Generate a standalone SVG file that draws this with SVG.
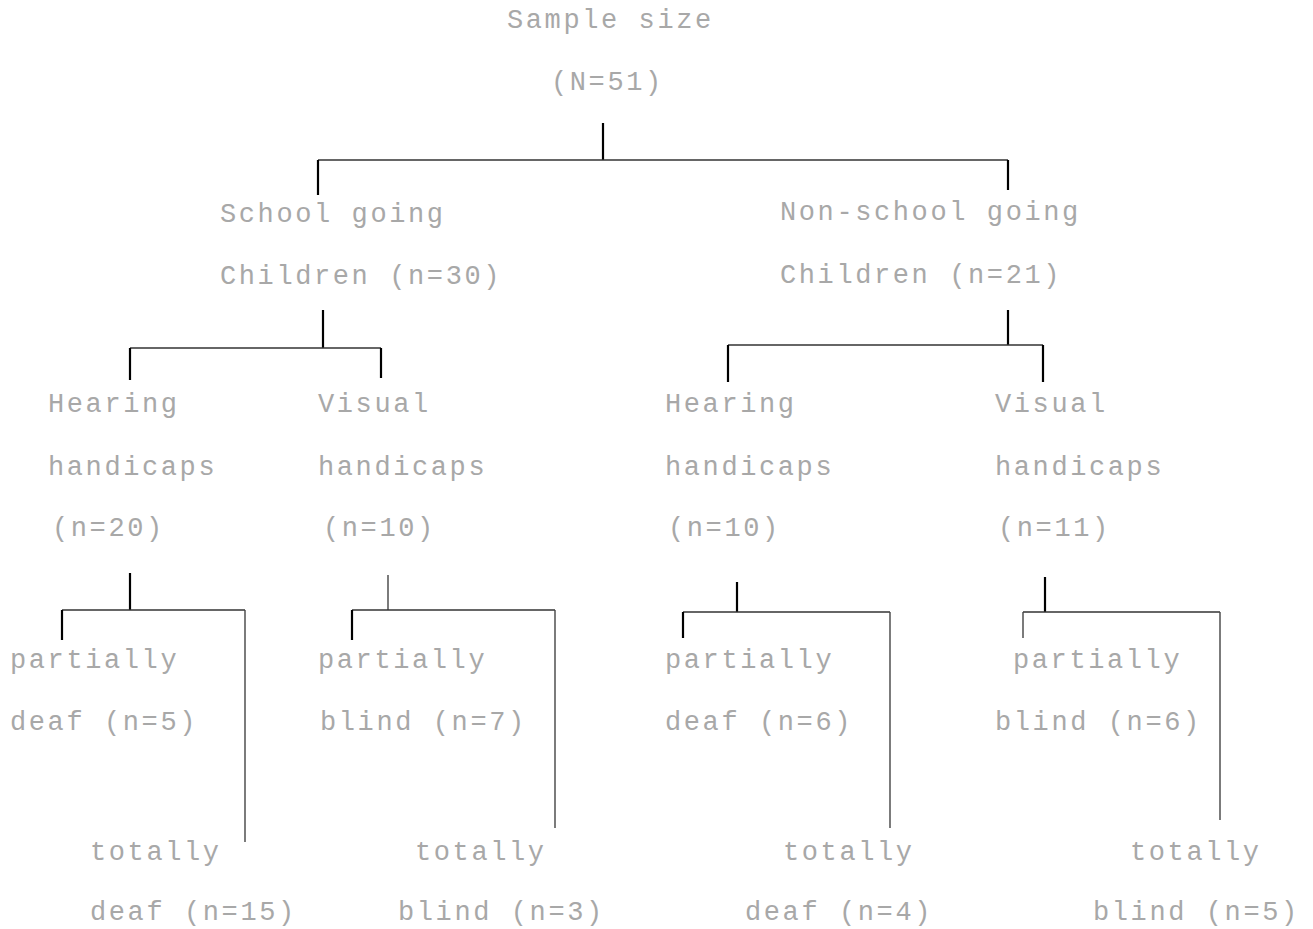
<svg xmlns="http://www.w3.org/2000/svg" width="1313" height="929" viewBox="0 0 1313 929">
<style>
text{font-family:"Liberation Mono","DejaVu Sans Mono",monospace;font-size:27px;letter-spacing:2.6px;fill:#a8a8a8}
.t{stroke:#000;stroke-width:2.2;fill:none}
.h{stroke:#333;stroke-width:1.3;fill:none}
.d{stroke:#444;stroke-width:1.4;fill:none}
</style>
<rect width="1313" height="929" fill="#fff"/>
<g id="connectors">
<path class="t" d="M603 123V160"/>
<path class="h" d="M318 160H1008"/>
<path class="t" d="M318 160V195M1008 160V190"/>
<path class="t" d="M323 310V348"/>
<path class="h" d="M130 348H381"/>
<path class="t" d="M130 348V380M381 348V378"/>
<path class="t" d="M1008 310V345"/>
<path class="h" d="M728 345H1043"/>
<path class="t" d="M728 345V382M1043 345V382"/>
<path class="t" d="M130 573V610"/>
<path class="h" d="M62 610H245"/>
<path class="t" d="M62 610V640"/>
<path class="d" d="M245 610V842"/>
<path class="d" d="M388 575V610"/>
<path class="h" d="M352 610H555"/>
<path class="t" d="M352 610V640"/>
<path class="d" d="M555 610V828"/>
<path class="t" d="M737 582V612"/>
<path class="h" d="M683 612H890"/>
<path class="t" d="M683 612V638"/>
<path class="d" d="M890 612V828"/>
<path class="t" d="M1045 577V612"/>
<path class="h" d="M1023 612H1220"/>
<path class="d" d="M1023 612V638M1220 612V820"/>
</g>
<g id="root"><text x="507" y="28">Sample size</text><text x="551" y="90">(N=51)</text></g>
<g id="school"><text x="220" y="222">School going</text><text x="220" y="284">Children (n=30)</text></g>
<g id="nonschool"><text x="780" y="220">Non-school going</text><text x="780" y="283">Children (n=21)</text></g>
<g id="s-hearing"><text x="48" y="412">Hearing</text><text x="48" y="475">handicaps</text><text x="52" y="536">(n=20)</text></g>
<g id="s-visual"><text x="318" y="412">Visual</text><text x="318" y="475">handicaps</text><text x="323" y="536">(n=10)</text></g>
<g id="n-hearing"><text x="665" y="412">Hearing</text><text x="665" y="475">handicaps</text><text x="668" y="536">(n=10)</text></g>
<g id="n-visual"><text x="995" y="412">Visual</text><text x="995" y="475">handicaps</text><text x="998" y="536">(n=11)</text></g>
<g id="s-pdeaf"><text x="10" y="668">partially</text><text x="10" y="730">deaf (n=5)</text></g>
<g id="s-tdeaf"><text x="90" y="860">totally</text><text x="90" y="920">deaf (n=15)</text></g>
<g id="s-pblind"><text x="318" y="668">partially</text><text x="320" y="730">blind (n=7)</text></g>
<g id="s-tblind"><text x="415" y="860">totally</text><text x="398" y="920">blind (n=3)</text></g>
<g id="n-pdeaf"><text x="665" y="668">partially</text><text x="665" y="730">deaf (n=6)</text></g>
<g id="n-tdeaf"><text x="783" y="860">totally</text><text x="745" y="920">deaf (n=4)</text></g>
<g id="n-pblind"><text x="1013" y="668">partially</text><text x="995" y="730">blind (n=6)</text></g>
<g id="n-tblind"><text x="1130" y="860">totally</text><text x="1093" y="920">blind (n=5)</text></g>
</svg>
